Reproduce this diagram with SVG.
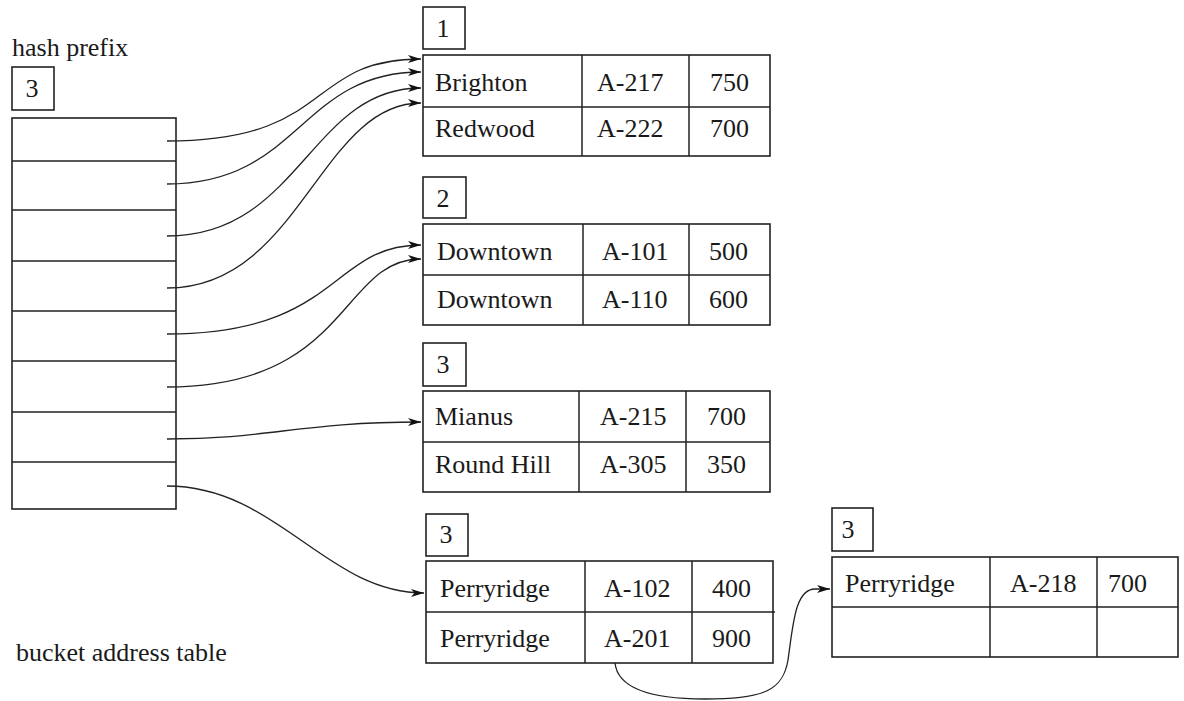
<svg xmlns="http://www.w3.org/2000/svg" width="1184" height="701" viewBox="0 0 1184 701">
  <style>
    .box { fill: none; stroke: #222; stroke-width: 1.6; }
    .grid { stroke: #222; stroke-width: 1.5; }
    text { font-family: 'Liberation Serif', 'Times New Roman', Times, 'DejaVu Serif', serif; font-size: 26px; fill: #1a1a1a; }
    .c { text-anchor: middle; }
    .link { fill: none; stroke: #222; stroke-width: 1.3; }
  </style>
  <defs>
    <marker id="arrow" viewBox="0 0 13 8" refX="13" refY="4" markerWidth="13" markerHeight="8" markerUnits="userSpaceOnUse" orient="auto">
      <path d="M0,0 L13,4 L0,8 L3.5,4 z" fill="#111"/>
    </marker>
  </defs>
  <rect width="1184" height="701" fill="#fff"/>

  <!-- bucket address table -->
  <g id="address-table" font-family="Liberation Serif, serif">
    <text x="12" y="56">hash prefix</text>
    <rect class="box" x="12" y="67" width="42" height="43"/>
    <text class="c" x="32" y="97">3</text>
    <rect class="box" x="12" y="118" width="164" height="391"/>
    <path class="grid" d="M12,161H176M12,210H176M12,261H176M12,311H176M12,361H176M12,412H176M12,462H176"/>
    <text x="16" y="661">bucket address table</text>
  </g>

  <!-- bucket 1 -->
  <g id="bucket-1">
    <rect class="box" x="423" y="7" width="42" height="42"/>
    <text class="c" x="443" y="37">1</text>
    <rect class="box" x="423" y="55" width="347" height="101"/>
    <path class="grid" d="M423,107H770M582,55V156M689,55V156"/>
    <text x="435" y="91">Brighton</text>
    <text x="597" y="91">A-217</text>
    <text x="710" y="91">750</text>
    <text x="435" y="137">Redwood</text>
    <text x="597" y="137">A-222</text>
    <text x="710" y="137">700</text>
  </g>

  <!-- bucket 2 -->
  <g id="bucket-2">
    <rect class="box" x="423" y="177" width="43" height="41"/>
    <text class="c" x="443" y="207">2</text>
    <rect class="box" x="423" y="224" width="347" height="101"/>
    <path class="grid" d="M423,275H770M583,224V325M689,224V325"/>
    <text x="437" y="260">Downtown</text>
    <text x="602" y="260">A-101</text>
    <text x="709" y="260">500</text>
    <text x="437" y="308">Downtown</text>
    <text x="602" y="308">A-110</text>
    <text x="709" y="308">600</text>
  </g>

  <!-- bucket 3 -->
  <g id="bucket-3">
    <rect class="box" x="423" y="343" width="43" height="43"/>
    <text class="c" x="443" y="373">3</text>
    <rect class="box" x="423" y="391" width="347" height="101"/>
    <path class="grid" d="M423,442H770M579,391V492M686,391V492"/>
    <text x="435" y="425">Mianus</text>
    <text x="600" y="425">A-215</text>
    <text x="707" y="425">700</text>
    <text x="435" y="473">Round Hill</text>
    <text x="600" y="473">A-305</text>
    <text x="707" y="473">350</text>
  </g>

  <!-- bucket 4 -->
  <g id="bucket-4">
    <rect class="box" x="426" y="514" width="42" height="42"/>
    <text class="c" x="446" y="543">3</text>
    <rect class="box" x="426" y="561" width="347" height="102"/>
    <path class="grid" d="M426,612H775M585,561V663M692,561V663"/>
    <text x="440" y="597">Perryridge</text>
    <text x="604" y="597">A-102</text>
    <text x="712" y="597">400</text>
    <text x="440" y="647">Perryridge</text>
    <text x="604" y="647">A-201</text>
    <text x="712" y="647">900</text>
  </g>

  <!-- overflow bucket -->
  <g id="overflow-bucket">
    <rect class="box" x="832" y="508" width="41" height="43"/>
    <text class="c" x="848" y="538">3</text>
    <rect class="box" x="832" y="557" width="346" height="100"/>
    <path class="grid" d="M832,607H1178M990,557V657M1097,557V657"/>
    <text x="845" y="592">Perryridge</text>
    <text x="1010" y="592">A-218</text>
    <text x="1108" y="592">700</text>
  </g>

  <!-- pointers -->
  <g id="connectors" marker-end="url(#arrow)">
    <path class="link" d="M167,141 C335,141 305,59 421,59"/>
    <path class="link" d="M167,184 C300,184 300,72 421,72"/>
    <path class="link" d="M167,236 C300,236 310,88 421,88"/>
    <path class="link" d="M167,288 C300,288 320,103 421,103"/>
    <path class="link" d="M167,334 C340,334 330,245 421,245"/>
    <path class="link" d="M167,387 C350,387 340,259 421,259"/>
    <path class="link" d="M167,439 C270,439 300,422 421,422"/>
    <path class="link" d="M167,486 C277,486 326,593 424,593"/>
    <path class="link" d="M615,663 C618,692 660,699 705,699 C765,699 783,690 788,660 C793,625 795,589 815,589 L830,589"/>
  </g>
</svg>
